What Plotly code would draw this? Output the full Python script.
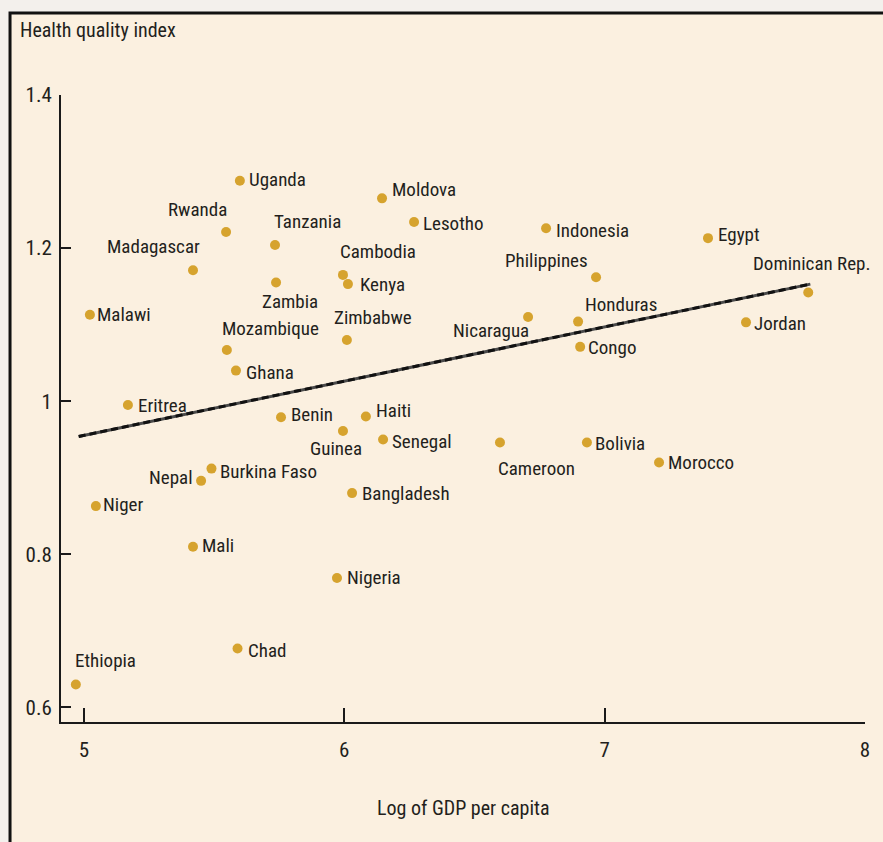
import plotly.graph_objects as go

# ---------------- data ----------------
countries = ["Uganda", "Rwanda", "Madagascar", "Tanzania", "Zambia", "Malawi",
             "Mozambique", "Ghana", "Eritrea", "Benin", "Haiti", "Guinea",
             "Senegal", "Nepal", "Burkina Faso", "Niger", "Bangladesh", "Mali",
             "Nigeria", "Chad", "Ethiopia", "Moldova", "Lesotho", "Cambodia",
             "Kenya", "Zimbabwe", "Indonesia", "Philippines", "Nicaragua",
             "Honduras", "Congo", "Egypt", "Dominican Rep.", "Jordan",
             "Cameroon", "Bolivia", "Morocco"]
log_gdp = [5.599, 5.546, 5.419, 5.734, 5.738, 5.023,
           5.549, 5.584, 5.169, 5.757, 6.083, 5.995,
           6.149, 5.450, 5.490, 5.046, 6.030, 5.419,
           5.972, 5.590, 4.969, 6.145, 6.268, 5.995,
           6.014, 6.010, 6.775, 6.967, 6.706,
           6.898, 6.906, 7.397, 7.782, 7.543,
           6.598, 6.932, 7.209]
health_index = [1.288, 1.221, 1.171, 1.204, 1.155, 1.113,
                1.067, 1.040, 0.995, 0.979, 0.980, 0.961,
                0.950, 0.896, 0.912, 0.863, 0.880, 0.810,
                0.769, 0.677, 0.630, 1.265, 1.234, 1.165,
                1.153, 1.080, 1.226, 1.162, 1.110,
                1.104, 1.071, 1.213, 1.142, 1.103,
                0.946, 0.946, 0.920]
fit_x = [4.98, 7.79]
fit_y = [0.954, 1.153]
x_ticks = [5, 6, 7, 8]
x_tick_labels = ["5", "6", "7", "8"]
y_ticks = [0.6, 0.8, 1.0, 1.2, 1.4]
y_tick_labels = ["0.6", "0.8", "1", "1.2", "1.4"]
y_title = "Health quality index"
x_title = "Log of GDP per capita"

# ---------------- label placement (styling) ----------------
# (xanchor, xshift px, yshift px)
place = {
    "Uganda": ("left", 7, 1), "Malawi": ("left", 5, 0), "Ghana": ("left", 8, -2),
    "Eritrea": ("left", 8, 0), "Benin": ("left", 8, 3), "Haiti": ("left", 8, 6),
    "Senegal": ("left", 7, -2), "Burkina Faso": ("left", 7, -3), "Niger": ("left", 5, 2),
    "Bangladesh": ("left", 8, 0), "Mali": ("left", 7, 1), "Nigeria": ("left", 8, 1),
    "Chad": ("left", 8, -2), "Moldova": ("left", 8, 9), "Lesotho": ("left", 7, -1),
    "Kenya": ("left", 10, 0), "Indonesia": ("left", 8, -2), "Congo": ("left", 6, -1),
    "Egypt": ("left", 8, 4), "Jordan": ("left", 6, -1), "Bolivia": ("left", 6, -1),
    "Morocco": ("left", 7, 0), "Honduras": ("left", 5, 17),
    "Nepal": ("right", -6, 3), "Nicaragua": ("right", 3, -13), "Rwanda": ("right", 3, 23),
    "Madagascar": ("right", 9, 24), "Philippines": ("right", -6, 17), "Guinea": ("right", 21, -17),
    "Tanzania": ("left", -3, 24), "Mozambique": ("left", -7, 21), "Cambodia": ("left", -5, 23),
    "Zimbabwe": ("left", -15, 22), "Ethiopia": ("left", -3, 24), "Zambia": ("left", -16, -19),
    "Cameroon": ("left", -4, -26), "Dominican Rep.": ("left", -57, 29),
}

FONT = "Liberation Sans Narrow, Arial Narrow, Roboto Condensed, sans-serif"
TXT = "#231f1c"
DOT = "#d6a32e"
BG = "#f3f0ec"

fig = go.Figure()

fig.add_trace(go.Scatter(x=fit_x, y=fit_y, mode="lines",
                         line=dict(color="#4a4a4a", width=3), hoverinfo="skip"))
fig.add_trace(go.Scatter(x=fit_x, y=fit_y, mode="lines",
                         line=dict(color="#111111", width=3, dash="7px,4px"), hoverinfo="skip"))
fig.add_trace(go.Scatter(x=log_gdp, y=health_index, mode="markers", text=countries,
                         marker=dict(color=DOT, size=10), cliponaxis=False))

annotations = []
for c, xv, yv in zip(countries, log_gdp, health_index):
    xa, dx, dy = place[c]
    annotations.append(dict(x=xv, y=yv, xref="x", yref="y", text=c, showarrow=False,
                            xanchor=xa, yanchor="middle", xshift=dx, yshift=dy,
                            font=dict(family=FONT, size=19, color=TXT)))
annotations.append(dict(x=-0.054, y=1.104, xref="paper", yref="paper", text=y_title,
                        showarrow=False, xanchor="left", yanchor="middle",
                        font=dict(family=FONT, size=20, color=TXT)))
annotations.append(dict(x=0.5, y=-0.137, xref="paper", yref="paper", text=x_title,
                        showarrow=False, xanchor="center", yanchor="middle",
                        font=dict(family=FONT, size=20, color=TXT)))

fig.update_layout(
    width=883, height=842,
    margin=dict(l=61, r=18, t=95, b=120),
    paper_bgcolor=BG,
    plot_bgcolor="rgba(0,0,0,0)",
    showlegend=False,
    annotations=annotations,
    shapes=[dict(type="rect", xref="paper", yref="paper",
                 x0=-0.0634, x1=1.06, y0=-0.26, y1=1.1308,
                 fillcolor="#fbf0e0", line=dict(color="#111111", width=3), layer="below")],
    xaxis=dict(range=[4.912, 8.0], tickvals=x_ticks, ticktext=x_tick_labels,
               showgrid=False, zeroline=False, showline=True, linecolor="#1a1a1a", linewidth=2,
               ticks="inside", ticklen=14, tickwidth=1.5, tickcolor="#1a1a1a",
               ticklabelstandoff=8,
               tickfont=dict(family=FONT, size=21, color=TXT), fixedrange=True),
    yaxis=dict(range=[0.581, 1.4], tickvals=y_ticks, ticktext=y_tick_labels,
               showgrid=False, zeroline=False, showline=True, linecolor="#1a1a1a", linewidth=2,
               ticks="inside", ticklen=10, tickwidth=1.5, tickcolor="#1a1a1a",
               ticklabelstandoff=3,
               tickfont=dict(family=FONT, size=21, color=TXT), fixedrange=True),
)

fig.write_html("out.html", config={"displayModeBar": False},
               post_script="document.body.style.margin='0';document.body.style.background='%s';" % BG)
